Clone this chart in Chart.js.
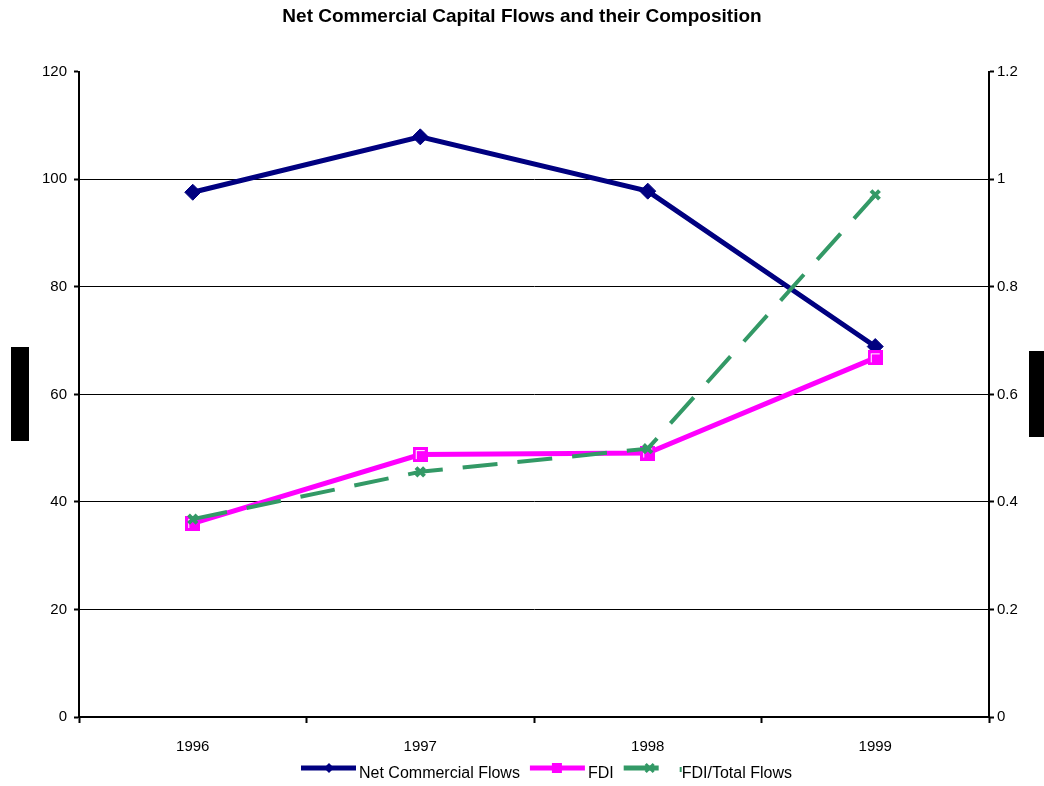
<!DOCTYPE html>
<html>
<head>
<meta charset="utf-8">
<script src="https://cdn.jsdelivr.net/npm/chart.js@4.4.1/dist/chart.umd.min.js"></script>
<style>
  html, body { margin: 0; padding: 0; background: #fff; }
  canvas { display: block; }
</style>
</head>
<body>
<canvas id="c" width="1044" height="786"></canvas>
<script>
// ---- data ----
const categories = ['1996', '1997', '1998', '1999'];
const netCommercialFlows = [97.6, 107.9, 97.8, 68.9];
const fdi = [36.0, 48.8, 49.1, 66.8];
const fdiTotalRatio = [0.368, 0.456, 0.499, 0.971];
const leftTicks = [0, 20, 40, 60, 80, 100, 120];
const rightTicks = [0, 0.2, 0.4, 0.6, 0.8, 1, 1.2];
const seriesNames = ['Net Commercial Flows', 'FDI', 'FDI/Total Flows'];
const titleText = 'Net Commercial Capital Flows and their Composition';

const NAVY = '#000080', MAGENTA = '#FF00FF', GREEN = '#339966';
const FONT = '"Liberation Sans", Arial, sans-serif';

// magenta square marker with light inner bevel (as in the reference)
function makeSquareMarker() {
  const c = document.createElement('canvas');
  c.width = 15; c.height = 15;
  const g = c.getContext('2d');
  g.fillStyle = MAGENTA;
  g.fillRect(0, 0, 15, 15);
  g.fillStyle = '#fff';
  g.fillRect(3, 3, 9, 1);
  g.fillRect(3, 3, 1, 9);
  return c;
}
const squareMarker = makeSquareMarker();

const extrasPlugin = {
  id: 'extras',
  afterDraw(chart) {
    const ctx = chart.ctx;
    ctx.save();
    // redacted axis-title blocks
    ctx.fillStyle = '#000';
    ctx.fillRect(11, 347, 18, 94);
    ctx.fillRect(1029, 351, 15, 86);

    // legend
    ctx.font = '16px ' + FONT;
    ctx.textBaseline = 'middle';
    ctx.textAlign = 'left';
    const lineY = 768, textY = 774;
    let x = 301;
    const colors = [NAVY, MAGENTA, GREEN];
    seriesNames.forEach((name, i) => {
      ctx.lineCap = 'butt';
      ctx.strokeStyle = colors[i];
      ctx.fillStyle = colors[i];
      if (i === 0) {
        ctx.lineWidth = 5;
        ctx.beginPath(); ctx.moveTo(x, lineY); ctx.lineTo(x + 55, lineY); ctx.stroke();
        const cx = x + 28;
        ctx.beginPath();
        ctx.moveTo(cx, lineY - 5); ctx.lineTo(cx + 5, lineY); ctx.lineTo(cx, lineY + 5); ctx.lineTo(cx - 5, lineY);
        ctx.closePath(); ctx.fill();
      } else if (i === 1) {
        ctx.lineWidth = 5;
        ctx.beginPath(); ctx.moveTo(x, lineY); ctx.lineTo(x + 55, lineY); ctx.stroke();
        ctx.fillRect(x + 22, lineY - 5, 10, 10);
      } else {
        ctx.lineWidth = 5;
        ctx.beginPath(); ctx.moveTo(x, lineY); ctx.lineTo(x + 35, lineY); ctx.stroke();
        const cx = x + 26;
        ctx.lineWidth = 3;
        ctx.beginPath();
        ctx.moveTo(cx - 4, lineY - 4); ctx.lineTo(cx + 4, lineY + 4);
        ctx.moveTo(cx + 4, lineY - 4); ctx.lineTo(cx - 4, lineY + 4);
        ctx.stroke();
        ctx.fillRect(x + 56, lineY - 1, 2, 5);
      }
      ctx.fillStyle = '#000';
      const tx = x + 58;
      ctx.fillText(name, tx, textY);
      x = tx + ctx.measureText(name).width + 10;
    });
    ctx.restore();
  }
};

new Chart(document.getElementById('c'), {
  type: 'line',
  data: {
    labels: categories,
    datasets: [
      {
        label: seriesNames[0],
        data: netCommercialFlows,
        yAxisID: 'y',
        borderColor: NAVY,
        backgroundColor: NAVY,
        borderWidth: 5,
        pointStyle: 'rectRot',
        pointRadius: 8,
        pointBackgroundColor: NAVY,
        pointBorderColor: NAVY,
        pointBorderWidth: 1,
        tension: 0,
        order: 3
      },
      {
        label: seriesNames[1],
        data: fdi,
        yAxisID: 'y',
        borderColor: MAGENTA,
        backgroundColor: MAGENTA,
        borderWidth: 5,
        pointStyle: squareMarker,
        pointRadius: 8,
        tension: 0,
        order: 2
      },
      {
        label: seriesNames[2],
        data: fdiTotalRatio,
        yAxisID: 'y1',
        borderColor: GREEN,
        backgroundColor: GREEN,
        borderWidth: 4,
        borderDash: [35, 20],
        borderCapStyle: 'butt',
        pointStyle: 'crossRot',
        pointRadius: 6,
        pointBorderColor: GREEN,
        pointBackgroundColor: GREEN,
        pointBorderWidth: 4,
        tension: 0,
        order: 1
      }
    ]
  },
  options: {
    responsive: false,
    animation: false,
    layout: { padding: 0 },
    plugins: {
      legend: { display: false },
      tooltip: { enabled: false },
      title: {
        display: true,
        text: titleText,
        color: '#000',
        font: { family: FONT, size: 19, weight: 'bold' },
        padding: { top: 5, bottom: 44 }
      }
    },
    scales: {
      x: {
        type: 'category',
        offset: true,
        grid: {
          offset: true,
          drawOnChartArea: false,
          drawTicks: true,
          tickLength: 6,
          tickWidth: 2,
          tickColor: '#000',
          color: '#000'
        },
        border: { display: true, color: '#000', width: 2 },
        ticks: { color: '#000', font: { family: FONT, size: 15 }, padding: 15, maxRotation: 0 },
        afterFit(scale) { scale.height = 69; }
      },
      y: {
        position: 'left',
        min: 0,
        max: 120,
        afterBuildTicks(scale) { scale.ticks = leftTicks.map(v => ({ value: v })); },
        grid: {
          color: (c) => (c.tick && c.tick.value === 120) ? 'rgba(0,0,0,0)' : '#000',
          lineWidth: 1,
          drawTicks: true,
          tickLength: 5,
          tickColor: '#000',
          tickWidth: 2
        },
        border: { display: true, color: '#000', width: 2 },
        ticks: { color: '#000', font: { family: FONT, size: 15 }, padding: 7 },
        afterFit(scale) { scale.width = 79; }
      },
      y1: {
        position: 'right',
        min: 0,
        max: 1.2,
        afterBuildTicks(scale) { scale.ticks = rightTicks.map(v => ({ value: v })); },
        grid: {
          drawOnChartArea: false,
          drawTicks: true,
          tickLength: 5,
          tickColor: '#000',
          tickWidth: 2,
          color: '#000'
        },
        border: { display: true, color: '#000', width: 2 },
        ticks: {
          color: '#000',
          font: { family: FONT, size: 15 },
          padding: 3,
          callback: (v) => String(Number(Number(v).toFixed(1)))
        },
        afterFit(scale) { scale.width = 55; }
      }
    }
  },
  plugins: [extrasPlugin]
});
</script>
</body>
</html>
